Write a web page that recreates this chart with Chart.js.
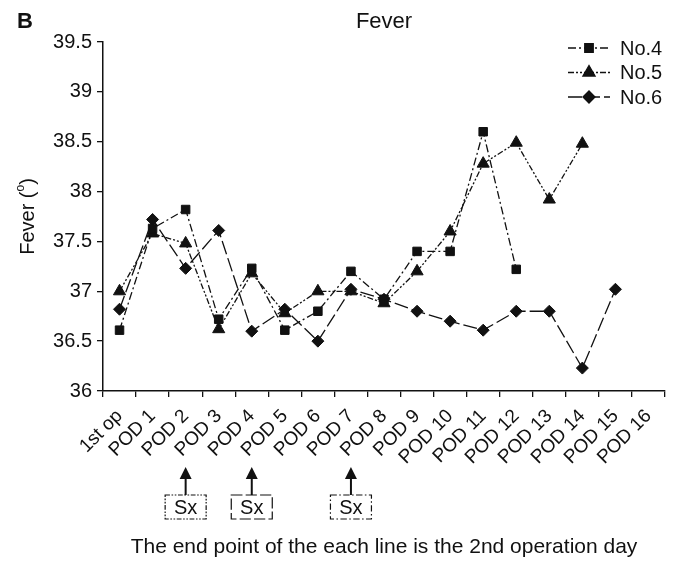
<!DOCTYPE html>
<html>
<head>
<meta charset="utf-8">
<script src="https://cdn.jsdelivr.net/npm/chart.js@4.4.1/dist/chart.umd.min.js"></script>
<style>
  body { margin: 0; background: #fff; }
  #wrap { width: 678px; height: 562px; position: relative; }
</style>
</head>
<body>
<div id="wrap"><canvas id="fever-chart"></canvas></div>
<script>
// days after the first operation
const days = ['1st op', 'POD 1', 'POD 2', 'POD 3', 'POD 4', 'POD 5', 'POD 6', 'POD 7', 'POD 8',
    'POD 9', 'POD 10', 'POD 11', 'POD 12', 'POD 13', 'POD 14', 'POD 15', 'POD 16'];

// body temperature per patient, null = no reading (line ends at 2nd op)
const no4 = [36.61, 37.63, 37.82, 36.72, 37.23, 36.61, 36.80, 37.20, 36.92, 37.40, 37.40, 38.60, 37.22, null, null, null, null];
const no5 = [37.00, 37.58, 37.48, 36.62, 37.18, 36.78, 37.00, 37.00, 36.88, 37.20, 37.60, 38.28, 38.49, 37.92, 38.48, null, null];
const no6 = [36.82, 37.72, 37.23, 37.61, 36.60, 36.82, 36.50, 37.02, 36.92, 36.80, 36.70, 36.61, 36.80, 36.80, 36.23, 37.02, null];

const yTicks = [36, 36.5, 37, 37.5, 38, 38.5, 39, 39.5];

// days with surgery (Sx) for No.4 / No.5 / No.6
const sxDays = ['POD 2', 'POD 4', 'POD 7'];
const sxPatients = ['No.5', 'No.6', 'No.4'];

const FONT = "'Liberation Sans', Arial, sans-serif";
const INK = '#111';

const dash4 = [8, 3, 2, 3];
const dash5 = [6, 2, 2, 2, 2, 2];
const dash6 = [14, 4];

const extras = {
    id: 'extras',
    afterDraw(chart) {
        const ctx = chart.ctx;
        const x = chart.scales.x;
        const area = chart.chartArea;
        ctx.save();
        ctx.fillStyle = INK;
        ctx.strokeStyle = INK;

        // panel letter + title
        ctx.font = 'bold 22px ' + FONT;
        ctx.textAlign = 'left';
        ctx.textBaseline = 'alphabetic';
        ctx.fillText('B', 17, 28);
        ctx.font = '22px ' + FONT;
        ctx.textAlign = 'center';
        ctx.fillText('Fever', (area.left + area.right) / 2, 28);

        // y title with superscript o
        ctx.save();
        ctx.translate(34, (area.top + area.bottom) / 2);
        ctx.rotate(-Math.PI / 2);
        ctx.textAlign = 'left';
        ctx.font = '20px ' + FONT;
        const a = 'Fever (', c = ')';
        const wa = ctx.measureText(a).width, wc = ctx.measureText(c).width;
        ctx.font = '12px ' + FONT;
        const wb = ctx.measureText('o').width;
        let sx = -(wa + wb + wc) / 2;
        ctx.font = '20px ' + FONT;
        ctx.fillText(a, sx, 0);
        ctx.font = '12px ' + FONT;
        ctx.fillText('o', sx + wa, -10);
        ctx.font = '20px ' + FONT;
        ctx.fillText(c, sx + wa + wb, 0);
        ctx.restore();

        // legend
        ctx.textAlign = 'left';
        ctx.textBaseline = 'middle';
        chart.data.datasets.forEach((ds, i) => {
            const ly = 48 + i * 24.5;
            ctx.lineWidth = 1.3;
            ctx.setLineDash(ds.borderDash);
            ctx.beginPath();
            ctx.moveTo(568, ly);
            ctx.lineTo(610, ly);
            ctx.stroke();
            ctx.setLineDash([]);
            Chart.helpers.drawPoint(ctx, {pointStyle: ds.pointStyle, radius: ds.pointRadius, rotation: 0, borderWidth: 1}, 589, ly);
            ctx.font = '20px ' + FONT;
            ctx.fillText(ds.label, 620, ly + 1);
        });

        // Sx arrows under the axis
        sxDays.forEach((d, i) => {
            const px = x.getPixelForValue(days.indexOf(d));
            const ds = chart.data.datasets.find(s => s.label === sxPatients[i]);
            ctx.setLineDash([]);
            ctx.lineWidth = 2;
            ctx.beginPath();
            ctx.moveTo(px, 477);
            ctx.lineTo(px, 495);
            ctx.stroke();
            ctx.beginPath();
            ctx.moveTo(px, 467);
            ctx.lineTo(px - 6, 479);
            ctx.lineTo(px + 6, 479);
            ctx.closePath();
            ctx.fill();
            ctx.lineWidth = 1.2;
            ctx.setLineDash(ds.borderDash.map(v => v * 0.8));
            ctx.strokeRect(px - 20.5, 495, 41, 24);
            ctx.setLineDash([]);
            ctx.font = '20px ' + FONT;
            ctx.textAlign = 'center';
            ctx.textBaseline = 'middle';
            ctx.fillText('Sx', px, 508);
        });

        ctx.font = '21px ' + FONT;
        ctx.textAlign = 'center';
        ctx.textBaseline = 'alphabetic';
        ctx.fillText('The end point of the each line is the 2nd operation day', 384, 553);
        ctx.restore();
    }
};

const series = (label, data, style, radius, dash) => ({
    label: label,
    data: data,
    borderColor: INK,
    backgroundColor: INK,
    pointBackgroundColor: INK,
    pointBorderColor: INK,
    borderWidth: 1.3,
    borderDash: dash,
    pointStyle: style,
    pointRadius: radius,
    pointBorderWidth: 1,
    tension: 0,
    spanGaps: false,
    fill: false
});

const ctx = document.getElementById('fever-chart').getContext('2d');
const feverChart = new Chart(ctx, {
    type: 'line',
    data: {
        labels: days,
        datasets: [
            series('No.4', no4, 'rect', 6, dash4),
            series('No.5', no5, 'triangle', 7, dash5),
            series('No.6', no6, 'rectRot', 6, dash6)
        ]
    },
    options: {
        responsive: true,
        maintainAspectRatio: false,
        animation: false,
        layout: { padding: { top: 42, right: 13, left: 0, bottom: 0 } },
        plugins: {
            legend: { display: false },
            title: { display: false },
            tooltip: { enabled: false }
        },
        scales: {
            x: {
                offset: true,
                grid: { offset: true, drawOnChartArea: false, tickLength: 6, color: INK, lineWidth: 1.3 },
                border: { color: INK, width: 1.5 },
                ticks: {
                    autoSkip: false, maxRotation: 45, minRotation: 45,
                    color: INK, font: { family: FONT, size: 19 }, padding: 8
                },
                afterFit(scale) { scale.height = 171; }
            },
            y: {
                min: 36,
                max: 39.5,
                afterBuildTicks(scale) { scale.ticks = yTicks.map(v => ({ value: v })); },
                grid: { drawOnChartArea: false, tickLength: 6, color: INK, lineWidth: 1.3 },
                border: { color: INK, width: 1.5 },
                ticks: {
                    color: INK, font: { family: FONT, size: 20 }, padding: 5,
                    callback: v => String(v)
                },
                afterFit(scale) { scale.width = 103; }
            }
        }
    },
    plugins: [extras]
});
</script>
</body>
</html>
